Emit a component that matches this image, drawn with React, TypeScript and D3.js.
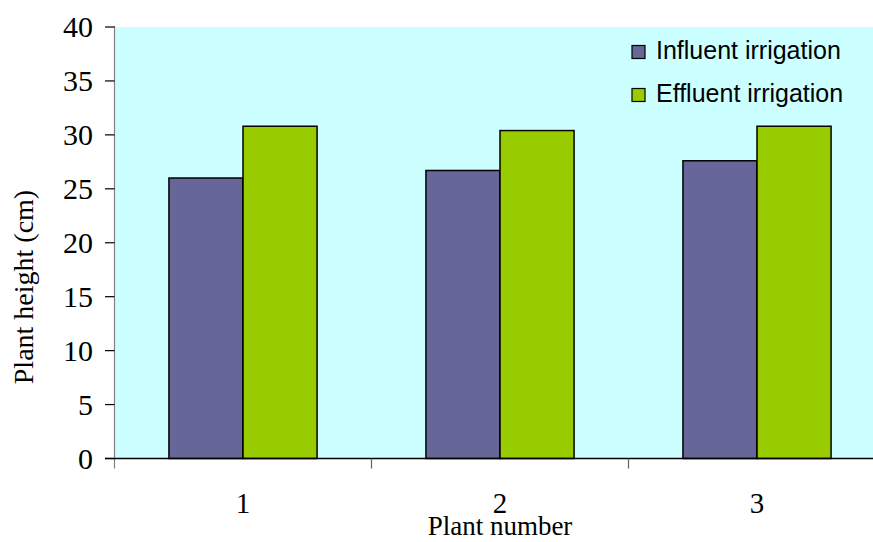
import React from "react";
import * as d3 from "d3";

const categories = ["1", "2", "3"];
const seriesNames = ["Influent irrigation", "Effluent irrigation"];
const influent = [26.0, 26.7, 27.6];
const effluent = [30.8, 30.4, 30.8];
const yTicks = [0, 5, 10, 15, 20, 25, 30, 35, 40];
const colors = ["#666699", "#99CC00"];

const W = 873;
const H = 542;
const left = 114.5;
const top = 27;
const bottom = 458.5;
const right = 885.5;

export default function App() {
  const x = d3.scaleBand<string>().domain(categories).range([left, right]).paddingInner(0).paddingOuter(0);
  const inner = d3.scaleBand<string>().domain(seriesNames).range([0, x.bandwidth()]).paddingOuter(0.735).paddingInner(0);
  const y = d3.scaleLinear().domain([0, 40]).range([bottom, top]);
  const series = [influent, effluent];
  const serif = "'Liberation Serif', 'Times New Roman', serif";
  const sans = "'Liberation Sans', Arial, sans-serif";
  const boundaries = categories.map((c) => x(c) as number);

  return (
    <svg width={W} height={H} style={{ position: "absolute", left: 0, top: 0, background: "#fff" }}>
      <rect x={left} y={top} width={W - left} height={bottom - top} fill="#CCFFFF" />
      {series.map((vals, si) =>
        categories.map((c, ci) => (
          <rect
            key={`${si}-${ci}`}
            x={(x(c) as number) + (inner(seriesNames[si]) as number)}
            y={y(vals[ci])}
            width={inner.bandwidth()}
            height={y(0) - y(vals[ci])}
            fill={colors[si]}
            stroke="#000"
            strokeWidth={1.5}
          />
        ))
      )}
      {/* y axis */}
      <line x1={left} x2={left} y1={top - 1} y2={bottom + 10} stroke="#808080" strokeWidth={1.2} />
      {yTicks.map((t) => (
        <g key={t}>
          <line x1={left - 9.5} x2={left} y1={y(t)} y2={y(t)} stroke="#000" strokeWidth={1.2} />
          <text x={93} y={y(t)} dy="0.34em" textAnchor="end" fontFamily={serif} fontSize={30} fill="#000">
            {t}
          </text>
        </g>
      ))}
      {/* x axis */}
      <line x1={left - 9.5} x2={W} y1={bottom} y2={bottom} stroke="#000" strokeWidth={1.5} />
      {boundaries.slice(1).map((b, i) => (
        <line key={i} x1={b} x2={b} y1={bottom} y2={bottom + 10} stroke="#606060" strokeWidth={1.2} />
      ))}
      {categories.map((c) => (
        <text
          key={c}
          x={(x(c) as number) + x.bandwidth() / 2}
          y={513}
          textAnchor="middle"
          fontFamily={serif}
          fontSize={29}
          fill="#000"
        >
          {c}
        </text>
      ))}
      <text x={500} y={535} textAnchor="middle" fontFamily={serif} fontSize={27} fill="#000">
        Plant number
      </text>
      <text
        transform={`translate(33, 287) rotate(-90)`}
        textAnchor="middle"
        fontFamily={serif}
        fontSize={28}
        fill="#000"
      >
        Plant height (cm)
      </text>
      {/* legend */}
      {seriesNames.map((n, i) => (
        <g key={n} transform={`translate(632, ${45.5 + i * 43})`}>
          <rect x={0} y={0} width={13} height={13} fill={colors[i]} stroke="#000" strokeWidth={1.2} />
          <text x={24} y={13} fontFamily={sans} fontSize={25} fill="#000">
            {n}
          </text>
        </g>
      ))}
    </svg>
  );
}
